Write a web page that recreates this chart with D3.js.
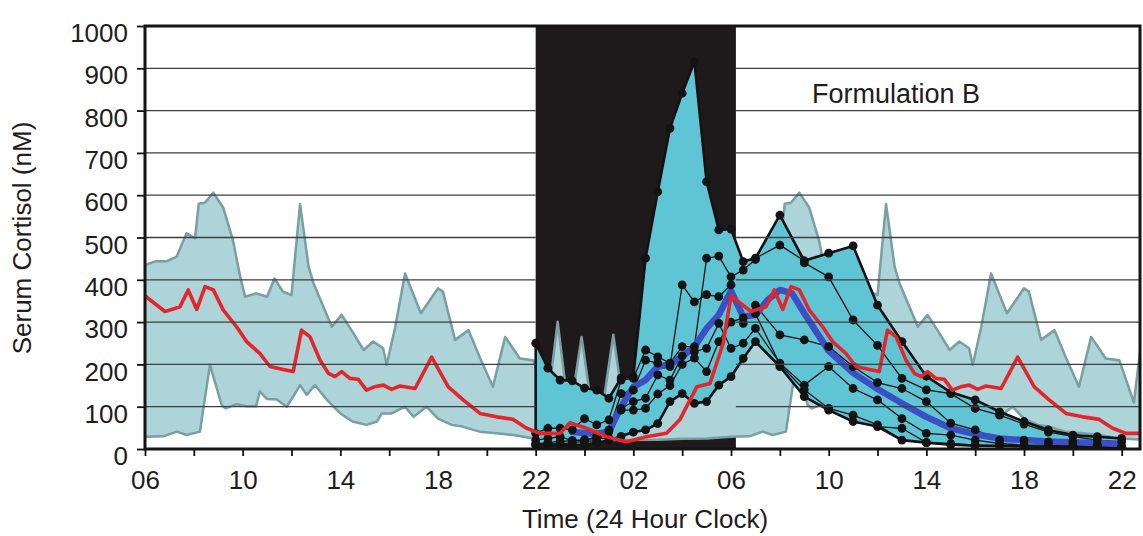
<!DOCTYPE html>
<html>
<head>
<meta charset="utf-8">
<script src="https://cdn.jsdelivr.net/npm/d3@7"></script>
<style>
body { margin: 0; background: #fff; }
svg { display: block; font-family: "Liberation Sans", Arial, sans-serif; }
</style>
</head>
<body>
<svg id="chart" width="1143" height="536"></svg>
<script>
// normal reference range, one 24 h cycle 06:00 -> 06:00 (hours from day-1 midnight)
const refUpperHours = [6, 6.45, 6.9, 7.3, 7.7, 8.05, 8.2, 8.45, 8.8, 9.2, 9.6, 9.9, 10.1, 10.55, 11, 11.3, 11.65, 12, 12.35, 12.7,
    12.9, 13.25, 13.65, 14.05, 14.5, 14.95, 15.35, 15.75, 15.9, 16.25, 16.65, 17.3, 18, 18.2, 18.7, 19.25, 19.7, 20.25, 20.75, 21.35,
    21.9, 22.5, 22.9, 23.3, 23.5, 23.88, 24.25, 24.8, 25.18, 25.55, 26, 26.5, 27, 28, 29, 30];
const refUpper = [435, 444, 444, 455, 510, 498, 580, 582, 606, 571, 494, 407, 360, 368, 360, 403, 372, 364, 579, 431,
    392, 344, 289, 317, 277, 234, 254, 238, 199, 289, 415, 321, 380, 372, 258, 281, 218, 147, 265, 214,
    210, 110, 301, 110, 120, 265, 115, 120, 270, 120, 120, 140, 180, 260, 340, 435];

const refLowerHours = [6, 6.75, 7.3, 7.7, 8.25, 8.66, 9.14, 9.3, 9.75, 10.15, 10.55, 10.7, 11, 11.4, 11.8, 12.07, 12.35, 12.62, 12.96, 13.5,
    14, 14.5, 15.07, 15.5, 15.7, 16.1, 16.3, 16.65, 17, 17.53, 18, 18.56, 19, 19.7, 20.4, 21.1, 21.9, 23, 25, 27, 28, 29, 30];
const refLower = [29, 30, 41, 33, 41, 199, 104, 96, 106, 101, 101, 136, 118, 117, 100, 124, 151, 128, 151, 113,
    84, 65, 57, 65, 84, 84, 90, 100, 76, 100, 72, 57, 53, 41, 37, 33, 25, 22, 21, 22, 24, 25, 29];

const refMeanHours = [6, 6.82, 7.43, 7.77, 8.12, 8.46, 8.8, 9.2, 9.75, 10.16, 10.7, 11.12, 11.66, 12.07, 12.41, 12.76, 13.17, 13.51, 13.78, 14.05,
    14.39, 14.73, 15.07, 15.4, 15.76, 16.1, 16.44, 17.06, 17.74, 18.42, 19.03, 19.72, 20.4, 21.08, 21.63, 22.18, 23, 23.4, 24.08, 24.9,
    25.72, 26.54, 27.36, 27.9, 28.6, 29.14, 29.68, 30];
const refMean = [362, 325, 336, 376, 330, 384, 376, 329, 289, 254, 226, 195, 188, 183, 281, 265, 210, 179, 171, 183,
    167, 165, 139, 147, 151, 141, 149, 143, 217, 147, 116, 84, 76, 70, 49, 37, 37, 62, 49, 29,
    17, 29, 37, 69, 147, 155, 250, 362];

// Formulation B patients: half-hourly 22:00-07:00, then hourly to 22:00
const sampleHours = [22, 22.5, 23, 23.5, 24, 24.5, 25, 25.5, 26, 26.5, 27, 27.5, 28, 28.5, 29, 29.5, 30, 30.5, 31,
    32, 33, 34, 35, 36, 37, 38, 39, 40, 41, 42, 43, 44, 45, 46];
const patient1 = [250, 191, 163, 161, 144, 139, 120, 168, 171, 451, 608, 758, 841, 916, 632, 518, 520, 443, 451,
    482, 445, 463, 480, 340, 254, 172, 134, 116, 88, 65, 45, 33, 29, 25];
const patient2 = [37, 49, 49, 45, 72, 57, 69, 163, 167, 234, 218, 203, 242, 242, 451, 456, 407, 423, 448,
    553, 440, 407, 305, 245, 167, 140, 131, 96, 80, 59, 40, 30, 21, 17];
const patient3 = [21, 25, 29, 20, 20, 30, 45, 131, 139, 210, 203, 195, 388, 348, 365, 360, 388, 297, 340,
    270, 258, 242, 195, 157, 143, 112, 61, 45, 21, 21, 17, 17, 9, 5];
const patient4 = [10, 12, 12, 15, 18, 20, 41, 96, 112, 120, 175, 163, 220, 230, 238, 297, 238, 250, 285,
    203, 151, 195, 143, 116, 72, 37, 33, 21, 13, 9, 9, 8, 9, 5];
const patient5 = [10, 10, 10, 10, 10, 15, 20, 30, 40, 45, 60, 112, 131, 108, 112, 151, 171, 214, 254,
    195, 124, 92, 65, 53, 49, 15, 13, 9, 8, 6, 5, 5, 5, 4];
const patient6 = [12, 15, 18, 20, 22, 25, 25, 92, 92, 96, 130, 150, 200, 215, 183, 254, 300, 310, 320,
    200, 140, 96, 80, 57, 21, 15, 10, 8, 7, 6, 5, 5, 5, 4];

const patientMeanHours = [23.5, 24, 24.5, 25, 25.5, 26, 26.5, 27, 27.5, 28, 28.5, 29, 29.5, 30, 30.5, 31, 31.5, 32, 32.5,
    33, 34, 35, 36, 37, 38, 39, 40, 41, 42, 43, 44, 45, 46];
const patientMean = [40, 38, 36, 41, 100, 147, 163, 195, 199, 218, 242, 285, 317, 374, 313, 317, 352, 376, 368,
    321, 232, 180, 142, 108, 76, 49, 35, 25, 21, 18, 16, 14, 12];

const lightsOff = [22, 30.2];
const yTicks = [0, 100, 200, 300, 400, 500, 600, 700, 800, 900, 1000];
const xTicks = [6, 8, 10, 12, 14, 16, 18, 20, 22, 24, 26, 28, 30, 32, 34, 36, 38, 40, 42, 44, 46];

const svg = d3.select("#chart");
const x = d3.scaleLinear().domain([6, 46.75]).range([145, 1140]);
const y = d3.scaleLinear().domain([0, 1000]).range([449, 26]);

// repeat the 24h reference cycle onto the second day
function twoDays(hours, vals) {
    const pts = hours.map((h, i) => [h, vals[i]]);
    const next = pts.slice(1).map(p => [p[0] + 24, p[1]]).filter(p => p[0] <= 48);
    return pts.concat(next);
}

const defs = svg.append("defs");
defs.append("clipPath").attr("id", "plot")
    .append("rect").attr("x", x(6)).attr("y", y(1000))
    .attr("width", x(46.75) - x(6)).attr("height", y(0) - y(1000));
const dayClip = defs.append("clipPath").attr("id", "day");
dayClip.append("rect").attr("x", x(6)).attr("y", 0)
    .attr("width", x(lightsOff[0]) - x(6)).attr("height", 536);
dayClip.append("rect").attr("x", x(lightsOff[1])).attr("y", 0)
    .attr("width", x(46.75) - x(lightsOff[1])).attr("height", 536);

const plot = svg.append("g").attr("clip-path", "url(#plot)");

// lights-off period
plot.append("rect")
    .attr("x", x(lightsOff[0])).attr("y", y(1000))
    .attr("width", x(lightsOff[1]) - x(lightsOff[0])).attr("height", y(0) - y(1000))
    .attr("fill", "#1e1a1b");

const line = d3.line().x(d => x(d[0])).y(d => y(d[1]));

const upperPts = twoDays(refUpperHours, refUpper);
const lowerPts = twoDays(refLowerHours, refLower);
const meanPts = twoDays(refMeanHours, refMean);

plot.append("path")
    .attr("d", line(upperPts.concat(lowerPts.slice().reverse())) + "Z")
    .attr("fill", "#acd4d9");
[upperPts, lowerPts].forEach(pts => {
    plot.append("path").attr("d", line(pts))
        .attr("fill", "none").attr("stroke", "#7a9ea2").attr("stroke-width", 2.5)
        .attr("stroke-linejoin", "round");
});

// envelope of formulation B patients
const patients = [patient1, patient2, patient3, patient4, patient5, patient6];
const envelope = sampleHours.map((h, i) => ({
    h: h,
    lo: d3.min(patients, p => p[i]),
    hi: d3.max(patients, p => p[i])
}));
plot.append("path")
    .attr("d", d3.area().x(d => x(d.h)).y0(d => y(d.lo)).y1(d => y(d.hi))(envelope) + "Z")
    .attr("fill", "#5fc5d5").attr("stroke", "#161414").attr("stroke-width", 2.6)
    .attr("stroke-linejoin", "round");

// grid
svg.append("g").attr("clip-path", "url(#day)")
    .selectAll("line").data(yTicks.filter(v => v > 0 && v < 1000)).enter().append("line")
    .attr("x1", x(6)).attr("x2", x(46.75))
    .attr("y1", d => y(d)).attr("y2", d => y(d))
    .attr("stroke", "#3e3e3e").attr("stroke-width", 1.3);

// individual patients
plot.selectAll(".patient").data(patients).enter().append("path")
    .attr("class", "patient")
    .attr("d", p => line(p.map((v, i) => [sampleHours[i], v])))
    .attr("fill", "none").attr("stroke", "#141212").attr("stroke-width", 1.3);

plot.append("path")
    .attr("d", line(patientMeanHours.map((h, i) => [h, patientMean[i]])))
    .attr("fill", "none").attr("stroke", "#3a50c4").attr("stroke-width", 6.5)
    .attr("stroke-linejoin", "round").attr("stroke-linecap", "round");

const dots = [];
patients.forEach(p => p.forEach((v, i) => dots.push([sampleHours[i], v])));
plot.selectAll(".dot").data(dots).enter().append("circle")
    .attr("class", "dot")
    .attr("cx", d => x(d[0])).attr("cy", d => y(d[1])).attr("r", 4.4)
    .attr("fill", "#141212");

plot.append("path").attr("d", line(meanPts))
    .attr("fill", "none").attr("stroke", "#e4262c").attr("stroke-width", 3.6)
    .attr("stroke-linejoin", "round");

// axes
const yAxis = svg.append("g").attr("transform", "translate(" + x(6) + ",0)")
    .call(d3.axisLeft(y).tickValues(yTicks).tickSize(8).tickPadding(9).tickFormat(d3.format("d")));
yAxis.select(".domain").remove();
yAxis.selectAll("line").attr("stroke", "#111").attr("stroke-width", 1.8);
yAxis.selectAll("text").attr("dy", "0.6em").attr("font-size", 26).attr("fill", "#1f1c1d")
    .style("font-family", "Liberation Sans, Arial, sans-serif");

const pad = d3.format("02d");
const xAxis = svg.append("g").attr("transform", "translate(0," + y(0) + ")")
    .call(d3.axisBottom(x).tickValues(xTicks).tickSize(7).tickPadding(15)
        .tickFormat(h => (h % 4 === 2 ? pad(h % 24) : "")));
xAxis.select(".domain").remove();
xAxis.selectAll("line").attr("stroke", "#111").attr("stroke-width", 1.8);
xAxis.selectAll("text").attr("font-size", 26).attr("fill", "#1f1c1d")
    .style("font-family", "Liberation Sans, Arial, sans-serif");

// frame
svg.append("rect")
    .attr("x", x(6)).attr("y", y(1000))
    .attr("width", x(46.75) - x(6)).attr("height", y(0) - y(1000))
    .attr("fill", "none").attr("stroke", "#151313").attr("stroke-width", 3);

svg.append("text")
    .attr("transform", "translate(31,238) rotate(-90)")
    .attr("text-anchor", "middle").attr("font-size", 26).attr("fill", "#1f1c1d")
    .text("Serum Cortisol (nM)");

svg.append("text")
    .attr("x", 645).attr("y", 528)
    .attr("text-anchor", "middle").attr("font-size", 26).attr("fill", "#1f1c1d")
    .text("Time (24 Hour Clock)");

svg.append("text")
    .attr("x", 812).attr("y", 103)
    .attr("font-size", 27).attr("fill", "#1f1c1d")
    .text("Formulation B");
</script>
</body>
</html>
